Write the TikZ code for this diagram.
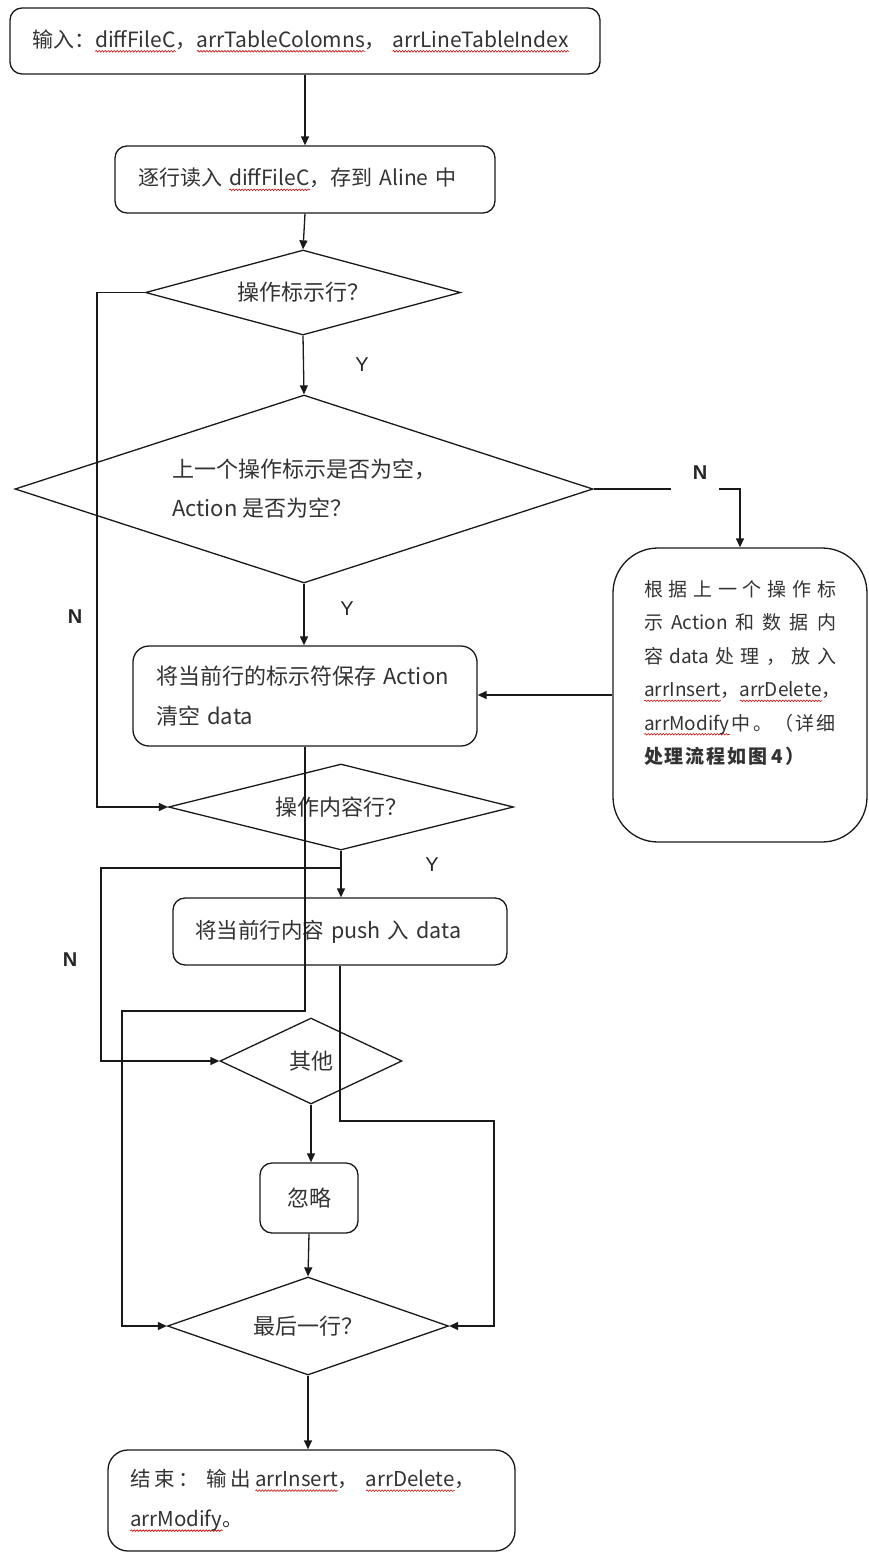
\documentclass[tikz,border=0pt]{standalone}
\usepackage{fontspec}
\setmainfont{Noto Sans CJK SC}
\newfontfamily\labfont{Liberation Sans}
\usetikzlibrary{shapes.geometric,arrows.meta,decorations.pathmorphing,calc}
\newsavebox\sqbox
\newlength\sqlen
\newcommand\sq[1]{\sbox\sqbox{#1}\setlength\sqlen{\wd\sqbox}\mbox{\makebox[0pt][l]{\tikz[baseline=0pt]\draw[sharp corners,red!80!black,line width=0.6pt,decorate,decoration={snake,amplitude=0.8pt,segment length=3pt}] (0pt,-4pt)--(\sqlen,-4pt);}\usebox\sqbox}}
\begin{document}
\begin{tikzpicture}[x=1pt,y=-1pt,
  box/.style={draw=black!90, rounded corners=12pt, line width=1.3pt, inner sep=0pt, text=black!80, font=\fontsize{22}{40}\selectfont},
  dia/.style={draw=black!90, diamond, inner sep=0pt, line width=1.3pt, text=black!80, font=\fontsize{22}{39}\selectfont},
  txtthree/.style={inner sep=0pt, text=black!80, font=\fontsize{19}{33.5}\selectfont, align=left},
  arr/.style={-{Triangle[length=9pt,width=8pt]}, line width=1.3pt, draw=black!90},
  lnk/.style={line width=1.3pt, draw=black!90},
  ylab/.style={font=\labfont\fontsize{20}{20}\selectfont, text=black!85, inner sep=0pt},
  nlab/.style={font=\labfont\bfseries\fontsize{20}{20}\selectfont, text=black!85, inner sep=0pt}]
\fill[white] (0,0) rectangle (869,1553);
\useasboundingbox (0,0) rectangle (869,1553);
% boxes
\node[box, font=\fontsize{21}{40}\selectfont, minimum width=590pt, minimum height=66pt, text width=546pt, align=left] (b1) at (305,41)
  {\mbox{输入：\sq{diffFileC}，\sq{arrTableColomns}，\hspace{0.3em}\sq{arrLineTableIndex}}};
\node[box, font=\fontsize{21}{40}\selectfont, minimum width=380pt, minimum height=67pt, text width=334pt, align=left] (b2) at (305,179.5)
  {\mbox{逐行读入 \sq{diffFileC}，存到 Aline 中}};
\node[dia, minimum width=315pt, minimum height=85pt, aspect=3.7] (d1) at (303,292.5) {操作标示行？};
\node[dia, minimum width=578pt, minimum height=188pt, aspect=3.07, align=left] (d2) at (304,489)
  {上一个操作标示是否为空，\\Action 是否为空？};
\node[box, rounded corners=45pt, minimum width=254pt, minimum height=294pt] (b3) at (740,695) {};
\node[txtthree] (t3) at (740,673) {%
\makebox[192pt][s]{根\hfill 据\hfill 上\hfill 一\hfill 个\hfill 操\hfill 作\hfill 标}\\
\makebox[192pt][s]{示\hfill Action\hfill 和\hfill 数\hfill 据\hfill 内}\\
\makebox[192pt][s]{容\hfill data\hfill 处\hfill 理\hfill ，\hfill 放\hfill 入}\\
\makebox[192pt][s]{\sq{arrInsert}，\hfill \sq{arrDelete}，}\\
\makebox[192pt][s]{\sq{arrModify}\hfill 中\hfill 。\hfill （\hfill 详\hfill 细}\\
\makebox[160pt][s]{\bfseries 处\hfill 理\hfill 流\hfill 程\hfill 如\hfill 图\hfill\hfill 4\hfill ）}};
\node[box, rounded corners=16pt, minimum width=344pt, minimum height=100pt, text width=298pt, align=left] (b4) at (305,696)
  {\mbox{将当前行的标示符保存 Action}\\\mbox{清空 data}};
\node[dia, minimum width=345pt, minimum height=86pt, aspect=4] (d3) at (341,807) {操作内容行？};
\node[box, font=\fontsize{21.5}{40}\selectfont, minimum width=334pt, minimum height=67pt, text width=290pt, align=left] (b5) at (340,931.5)
  {\mbox{将当前行内容 push 入 data}};
\node[dia, minimum width=182pt, minimum height=86pt, aspect=2.1] (d4) at (311,1061) {其他};
\node[box, minimum width=98pt, minimum height=70pt, align=center] (b6) at (309,1198) {忽略};
\node[dia, minimum width=281pt, minimum height=98pt, aspect=2.87] (d5) at (308,1326) {最后一行？};
\node[box, font=\fontsize{20.5}{40}\selectfont, rounded corners=20pt, minimum width=407pt, minimum height=101pt, text width=363pt, align=left] (b7) at (311.5,1500.5)
  {\makebox[345pt][s]{结\hfill 束\hfill ：\hfill\hfill 输\hfill 出\hfill \sq{arrInsert}，\hfill\hfill \sq{arrDelete}，}\\\mbox{\sq{arrModify}。}};
% labels
\node[ylab] (y1) at (362,365) {Y};
\node[nlab] (n1) at (700,473) {N};
\node[ylab] (y2) at (347,609) {Y};
\node[nlab] (n2) at (75,617) {N};
\node[ylab] (y3) at (432,865) {Y};
\node[nlab] (n3) at (70,960) {N};
% helper coordinates
\coordinate (nr) at (719,489);
\coordinate (j1) at (122,1011);
\coordinate (j2) at (341,868);
\coordinate (j3) at (101,868);
\coordinate (j4) at (494,1121);
% connectors
\draw[arr] (b1.south) -- (b2.north);
\draw[arr] (b2.south) -- (d1.north);
\draw[arr] (d1.west) -- ++(-48,0) |- (d3.west);
\draw[arr] (d1.south) -- (d2.north);
\draw[lnk] (d2.east) -- ++(77,0) coordinate (nl);
\draw[arr] (nr) -| (b3.north);
\draw[arr] (b3.west) -- (b3.west -| b4.east);
\draw[arr] (d2.south) -- (d2.south |- b4.north);
\draw[arr] (b4.south) |- (j1) |- (d5.west);
\draw[lnk] (d3.south) -- (j2);
\draw[arr] (j2) -- (j2 |- b5.north);
\draw[arr] (j2) -- (j3) |- (d4.west);
\draw[arr] (b5.south) |- (j4) |- (d5.east);
\draw[arr] (d4.south) -- (d4.south |- b6.north);
\draw[arr] (b6.south) -- (d5.north);
\draw[arr] (d5.south) -- (d5.south |- b7.north);
\end{tikzpicture}
\end{document}
